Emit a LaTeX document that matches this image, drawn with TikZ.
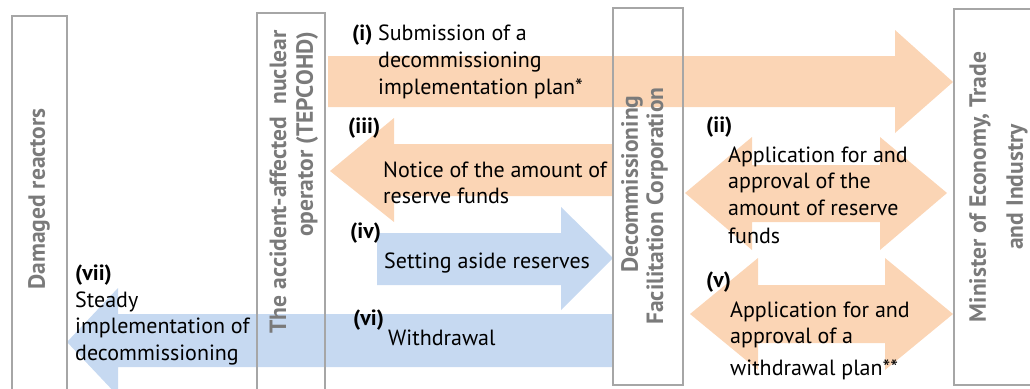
\documentclass[tikz,border=0pt]{standalone}
\usepackage{fontspec}
\setmainfont{PT Sans}
\definecolor{peach}{HTML}{FBD5B5}
\definecolor{lblue}{HTML}{C6D9F1}
\definecolor{boxgray}{HTML}{A6A6A6}
\definecolor{titlegray}{HTML}{7A7A7A}
\begin{document}
\begin{tikzpicture}[x=1pt,y=-1pt,
  orangearrow/.style={fill=peach},
  bluearrow/.style={fill=lblue},
  actor/.style={draw=boxgray,line width=2pt},
  ttl/.style={font=\bfseries\fontsize{23.5}{27}\selectfont,text=titlegray,rotate=90,inner sep=0pt},
  lbl/.style={font=\fontsize{22}{26}\selectfont,inner sep=0pt,anchor=base west},
  num/.style={font=\bfseries\fontsize{22}{26}\selectfont,inner sep=0pt,anchor=base west}]
\useasboundingbox (0,0) rectangle (1030,388);
\begin{scope}
\clip (0,0) rectangle (1030,388);
% arrows
% (i)
\fill[orangearrow] (328,56) -- (895,56) -- (895,30) -- (953,82) -- (895,133) -- (895,107) -- (328,107) -- cycle;
% (iii)
\fill[orangearrow] (613,144) -- (394,144) -- (394,118) -- (330,171) -- (394,222) -- (394,196) -- (613,196) -- cycle;
% (iv)
\fill[bluearrow] (377,233) -- (561,233) -- (561,207) -- (613,258) -- (561,310) -- (561,285) -- (377,285) -- cycle;
% (vi)
\fill[bluearrow] (613,314) -- (118,314) -- (118,288) -- (67,342) -- (118,396) -- (118,367) -- (613,367) -- cycle;
% (ii)
\fill[orangearrow] (685,193) -- (752,137) -- (752,165) -- (880,165) -- (880,137) -- (947,193) -- (880,250) -- (880,222) -- (752,222) -- (752,250) -- cycle;
% (v)
\fill[orangearrow] (690,314) -- (758,258) -- (758,285) -- (885,285) -- (885,258) -- (953,314) -- (885,370) -- (885,343) -- (758,343) -- (758,370) -- cycle;
% actor boxes
\draw[actor] (12,16) rectangle (67,420);
\draw[actor] (257,13) rectangle (325,420);
\draw[actor] (613,8) rectangle (683,385);
\draw[actor] (954,9) rectangle (1060,385);
\end{scope}
% titles
\node[ttl] (dr) at (39,199) {Damaged reactors};
\node[ttl,anchor=east] (op1) at (278,30) {The accident-affected\ \ nuclear};
\node[ttl,anchor=east] (op2) at (307,32) {operator (TEPCOHD)};
\node[ttl] (dfc1) at (632,184) {Decommissioning};
\node[ttl] (dfc2) at (657,206) {Facilitation Corporation};
\node[ttl] (me1) at (980,187) {Minister of Economy, Trade};
\node[ttl] (me2) at (1017,187) {and Industry};
% labels (i)
\node[num] (n1) at (352,40) {(i)};
\node[lbl] (t1a) at (378,40) {Submission of a};
\node[lbl] (t1b) at (378,67) {decommissioning};
\node[lbl] (t1c) at (378,94) {implementation plan*};
% (iii)
\node[num] (n3) at (348,133) {(iii)};
\node[lbl] (t3a) at (383,177) {Notice of the amount of};
\node[lbl] (t3b) at (383,203) {reserve funds};
% (iv)
\node[num] (n4) at (350,238) {(iv)};
\node[lbl] (t4a) at (384,268) {Setting aside reserves};
% (vi)
\node[num] (n6) at (353,325) {(vi)};
\node[lbl] (t6a) at (388,345) {Withdrawal};
% (vii)
\node[num] (n7) at (75,280) {(vii)};
\node[lbl] (t7a) at (75,307) {Steady};
\node[lbl] (t7b) at (75,333) {implementation of};
\node[lbl] (t7c) at (75,360) {decommissioning};
% (ii)
\node[num] (n2) at (706,132) {(ii)};
\node[lbl] (t2a) at (728,162) {Application for and};
\node[lbl] (t2b) at (728,188) {approval of the};
\node[lbl] (t2c) at (728,215) {amount of reserve};
\node[lbl] (t2d) at (728,243) {funds};
% (v)
\node[num] (n5) at (706,287) {(v)};
\node[lbl] (t5a) at (730,317) {Application for and};
\node[lbl] (t5b) at (730,343) {approval of a};
\node[lbl] (t5c) at (730,375) {withdrawal plan**};
\end{tikzpicture}
\end{document}
